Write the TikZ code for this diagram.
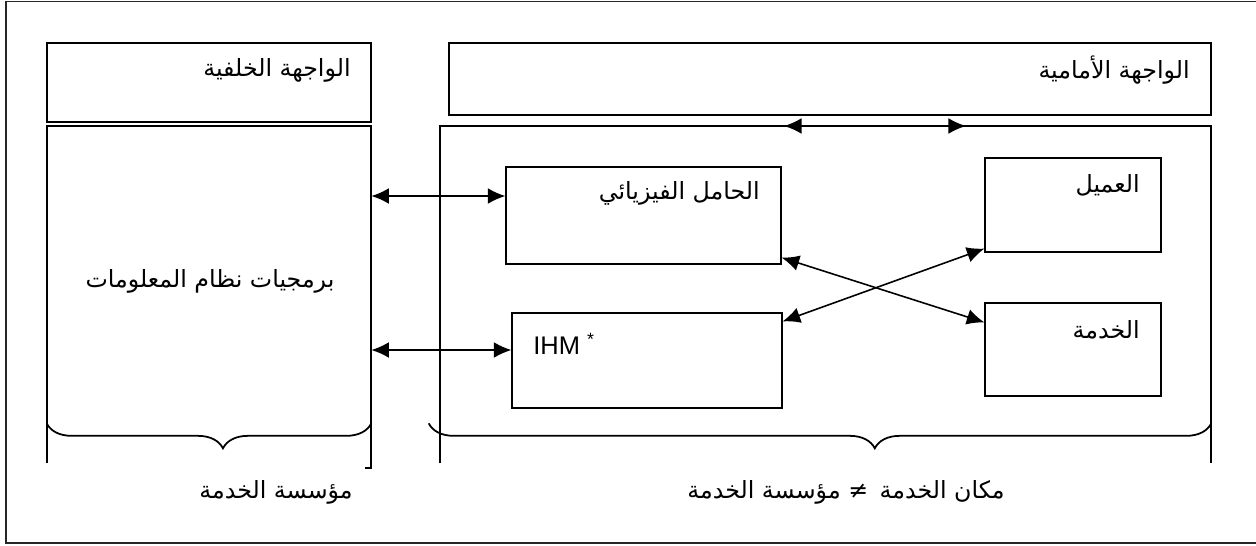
\documentclass[tikz,border=0pt]{standalone}
\usepackage{fontspec}
\setmainfont{Liberation Sans}
\newfontfamily\arabicfont[Script=Arabic]{DejaVu Sans}
\TeXXeTstate=1
\usetikzlibrary{arrows.meta,decorations.pathreplacing}
\newcommand{\artxt}[1]{{\arabicfont\beginR #1\endR}}

\begin{document}
\begin{tikzpicture}[
x=0.02cm, y=-0.02cm,
block/.style={
        draw,
        line width=0.7pt,
        inner sep=0pt,
    },
   frame/.style = {line width = 1pt},
   link/.style = {
   line width = 0.9pt,
   {Latex[length=10pt,width=9pt]}-{Latex[length=10pt,width=9pt]},
   },
   curly/.style = {
   line width = 1pt,
   decorate,
   decoration = {brace, mirror, amplitude=0.5cm, aspect=#1},
   },
   txt/.style = {inner sep=0pt, font=\fontsize{13.5}{16}\selectfont},
 ]
\clip (0,0) rectangle (1256,545);
\draw[line width = 0.8pt, black!85] (6,1.5) rectangle (1290,543);

% back end
\node[block, minimum width=6.48cm, minimum height=1.58cm] (backhead) at (209,82.5) {};
\node[txt, anchor=east] (backheadtxt) at (351,70) {\artxt{الواجهة الخلفية}};
\node[minimum width=6.48cm, minimum height=6.74cm] (backbox) at (209,294.5) {};
\draw[frame] (backbox.south west) -- (backbox.north west) -- (backbox.north east) -- ([yshift=-0.1cm]backbox.south east) -- ++(-6,0);
\node[txt] (software) at (210,281) {\artxt{برمجيات نظام المعلومات}};

% front end
\node[block, minimum width=15.24cm, minimum height=1.44cm] (fronthead) at (830,79) {};
\node[txt, anchor=east] (frontheadtxt) at (1190,70) {\artxt{الواجهة الأمامية}};
\node[minimum width=15.42cm, minimum height=6.74cm] (frontbox) at (825.5,294.5) {};
\draw[frame] (frontbox.south west) -- (frontbox.north west) -- (frontbox.north east) -- (frontbox.south east);
\coordinate (linkL) at (784,126);
\coordinate (linkR) at (966,126);
\draw[link] (linkL) -- (linkR);

\node[block, minimum width=5.5cm, minimum height=1.94cm] (physical) at (643.5,215.5) {};
\node[txt, anchor=east] (physicaltxt) at (760,193) {\artxt{الحامل الفيزيائي}};
\node[block, minimum width=5.4cm, minimum height=1.9cm] (ihm) at (647,360.5) {};
\node[txt, anchor=west, font=\fontsize{14.5}{16}\selectfont] (ihmtxt) at (533,344) {IHM \textsuperscript{*}};
\node[block, minimum width=3.52cm, minimum height=1.88cm] (client) at (1073,205) {};
\node[txt, anchor=east] (clienttxt) at (1140,185) {\artxt{العميل}};
\node[block, minimum width=3.52cm, minimum height=1.86cm] (service) at (1073,349.5) {};
\node[txt, anchor=east] (servicetxt) at (1140,330) {\artxt{الخدمة}};

% links
\coordinate (physL) at ([yshift=0.39cm]physical.west);
\coordinate (ihmL) at ([yshift=0.21cm]ihm.west);
\draw[link] (physL -| backbox.east) -- (physL);
\draw[link] (ihmL -| backbox.east) -- (ihmL);
\draw[link] ([yshift=0.14cm]physical.south east) -- ([yshift=-0.4cm]service.north west);
\draw[link] ([yshift=-0.18cm]ihm.north east) -- ([yshift=0.08cm]client.south west);

% braces
\draw[curly=0.543] ([yshift=0.8cm]backbox.south west) -- ([yshift=0.8cm]backbox.south east);
\draw[curly=0.570] ([xshift=-0.22cm,yshift=0.8cm]frontbox.south west) -- ([yshift=0.8cm]frontbox.south east);
\node[txt] (backcap) at (276,492) {\artxt{مؤسسة الخدمة}};
\node[txt] (frontcap) at (846,492) {\artxt{مكان الخدمة\,\ ≠ مؤسسة الخدمة}};
\end{tikzpicture}
\end{document}
